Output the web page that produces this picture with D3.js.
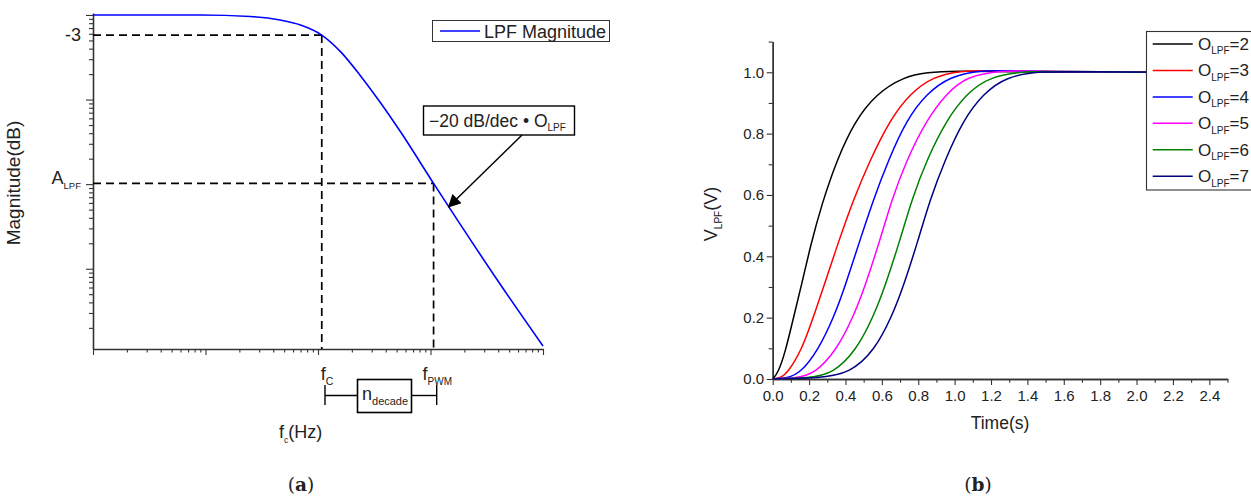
<!DOCTYPE html>
<html><head><meta charset="utf-8">
<style>
  body{margin:0;background:#fff}
  svg{display:block}
  text{font-family:"Liberation Sans",Arial,sans-serif;fill:#222}
</style>
</head><body>
<svg width="1251" height="498"></svg>
<script src="https://cdn.jsdelivr.net/npm/d3@7"></script>
<script>
// (a) LPF magnitude
const lpfFreq = [1, 9, 25, 46, 70, 108, 160, 240, 362, 545, 1065, 4150, 10000];
const lpfMag  = [10000, 10000, 9600, 8720, 7610, 5790, 3640, 1890, 904, 410, 102, 6.6, 1.22];
const fC = 108, fPWM = 1065;
const mag3dB = 5790, magA = 102;
const arrowTip = [1450, 54];

// (b) step responses, [time s, volts]
const orders = [2, 3, 4, 5, 6, 7];
const stepO2 = [[0,0],[0.03,0.02],[0.07,0.09],[0.11,0.19],[0.16,0.31],[0.21,0.44],[0.27,0.57],[0.35,0.71],[0.45,0.84],[0.57,0.93],[0.72,0.985],[0.85,1.0],[1.0,1.004],[1.3,1.002],[1.6,1.0],[2.5,1.0]];
const stepO3 = [[0,0],[0.04,0.003],[0.08,0.018],[0.16,0.095],[0.224,0.203],[0.28,0.301],[0.365,0.453],[0.443,0.584],[0.535,0.714],[0.645,0.845],[0.755,0.931],[0.883,0.986],[1.03,1.005],[1.2,1.006],[1.5,1.001],[2.5,1.0]];
const stepO4 = [[0,0],[0.08,0.003],[0.15,0.018],[0.251,0.095],[0.337,0.203],[0.397,0.301],[0.48,0.453],[0.553,0.584],[0.636,0.714],[0.736,0.845],[0.846,0.931],[0.975,0.986],[1.14,1.008],[1.35,1.004],[1.7,1.0],[2.5,1.0]];
const stepO5 = [[0,0],[0.13,0.003],[0.233,0.018],[0.352,0.095],[0.443,0.203],[0.507,0.301],[0.59,0.453],[0.654,0.584],[0.736,0.714],[0.846,0.845],[0.956,0.931],[1.066,0.986],[1.25,1.007],[1.5,1.003],[1.9,1.0],[2.5,1.0]];
const stepO6 = [[0,0],[0.2,0.003],[0.333,0.018],[0.461,0.095],[0.553,0.203],[0.617,0.301],[0.7,0.453],[0.764,0.584],[0.846,0.714],[0.956,0.845],[1.066,0.931],[1.194,0.986],[1.396,1.005],[1.65,1.002],[2.0,1.0],[2.5,1.0]];
const stepO7 = [[0,0],[0.25,0.003],[0.425,0.018],[0.562,0.095],[0.654,0.203],[0.718,0.301],[0.8,0.453],[0.864,0.584],[0.947,0.714],[1.048,0.845],[1.158,0.931],[1.286,0.986],[1.47,1.004],[1.75,1.001],[2.1,1.0],[2.5,1.0]];
const steps = [stepO2, stepO3, stepO4, stepO5, stepO6, stepO7];
const colors = ['#000000', '#ff0000', '#0000ff', '#ff00ff', '#008000', '#000080'];

const timeTicks = d3.range(0, 2.41, 0.2);
const voltTicks = d3.range(0, 1.01, 0.2);

const svg = d3.select('svg');
const ink = '#333';

// text with a subscript: parts = [main, sub, rest]
function subText(g, x, y, parts, size, subSize, anchor) {
  const t = g.append('text').attr('x', x).attr('y', y)
    .attr('font-size', size).attr('text-anchor', anchor || 'start');
  t.append('tspan').text(parts[0]);
  t.append('tspan').attr('font-size', subSize).attr('dy', size * 0.26).text(parts[1]);
  if (parts[2]) t.append('tspan').attr('dy', -size * 0.26).text(parts[2]);
  return t;
}

function styleAxis(g, w) {
  g.select('.domain').attr('stroke', ink).attr('stroke-width', w);
  g.selectAll('.tick line').attr('stroke', ink).attr('stroke-width', 1.1);
  g.selectAll('.tick text').attr('fill', '#222').attr('font-family', '"Liberation Sans",Arial,sans-serif');
}

// ---------- (a) ----------
const xA = d3.scaleLog().domain([1, 1e4]).range([93, 543]);
const yA = d3.scaleLog().domain([1.125, 10550]).range([349, 13]);

function logTicks(lo, hi) {
  const out = [];
  for (let e = 0; e <= 4; e++) for (let k = 1; k < 10; k++) {
    const v = k * Math.pow(10, e);
    if (v >= lo && v <= hi) out.push(v);
  }
  return out;
}
const isMajor = v => Math.abs(Math.log10(v) - Math.round(Math.log10(v))) < 1e-9;

const gyA = svg.append('g').attr('transform', 'translate(93,0)')
  .call(d3.axisLeft(yA).tickValues(logTicks(1.125, 10550)).tickFormat('').tickSizeOuter(0));
gyA.selectAll('.tick line').attr('x2', d => isMajor(d) ? -7 : -4);
styleAxis(gyA, 1.6);

const gxA = svg.append('g').attr('transform', 'translate(0,349)')
  .call(d3.axisBottom(xA).tickValues(logTicks(1, 1e4)).tickFormat('').tickSizeOuter(0));
gxA.selectAll('.tick line').attr('y2', d => isMajor(d) ? 6 : 3.5);
styleAxis(gxA, 1.6);

// dashed guides
const dash = svg.append('g').attr('stroke', '#000').attr('stroke-width', 1.7)
  .attr('stroke-dasharray', '8,5').attr('fill', 'none');
[[fC, mag3dB], [fPWM, magA]].forEach(([f, m]) => {
  dash.append('line').attr('x1', xA(1)).attr('x2', xA(f)).attr('y1', yA(m)).attr('y2', yA(m));
  dash.append('line').attr('x1', xA(f)).attr('x2', xA(f)).attr('y1', yA(m)).attr('y2', yA.range()[0]);
});

const lpfLine = d3.line().curve(d3.curveMonotoneX).x((d, i) => xA(lpfFreq[i])).y(d => yA(d));
svg.append('path').datum(lpfMag).attr('d', lpfLine)
  .attr('fill', 'none').attr('stroke', '#0000ff').attr('stroke-width', 1.6);

// y labels
svg.append('text').attr('x', 81).attr('y', 41).attr('font-size', 18).attr('text-anchor', 'end').text('-3');
subText(svg, 81, 184, ['A', 'LPF'], 18, 9.5, 'end');
svg.append('text').attr('transform', 'translate(20,183) rotate(-90)')
  .attr('font-size', 19).attr('text-anchor', 'middle').text('Magnitude(dB)');

// legend
svg.append('rect').attr('x', 432.5).attr('y', 20.5).attr('width', 177).attr('height', 21)
  .attr('fill', '#fff').attr('stroke', ink).attr('stroke-width', 1);
svg.append('line').attr('x1', 440).attr('x2', 480).attr('y1', 31).attr('y2', 31)
  .attr('stroke', '#0000ff').attr('stroke-width', 1.6);
svg.append('text').attr('x', 484).attr('y', 37.5).attr('font-size', 18).text('LPF Magnitude');

// slope annotation
svg.append('rect').attr('x', 423.5).attr('y', 106).attr('width', 151).attr('height', 29)
  .attr('fill', '#fff').attr('stroke', '#000').attr('stroke-width', 1.4);
subText(svg, 429, 126.5, ['\u221220 dB/dec \u2022 O', 'LPF'], 17.5, 10);
svg.append('defs').append('marker').attr('id', 'ah').attr('viewBox', '0 0 10 10')
  .attr('refX', 9).attr('refY', 5).attr('markerWidth', 15).attr('markerHeight', 13)
  .attr('orient', 'auto').attr('markerUnits', 'userSpaceOnUse')
  .append('path').attr('d', 'M0,0L10,5L0,10z').attr('fill', '#000');
svg.append('line').attr('x1', 522).attr('y1', 135)
  .attr('x2', xA(arrowTip[0])).attr('y2', yA(arrowTip[1]))
  .attr('stroke', '#000').attr('stroke-width', 1.5).attr('marker-end', 'url(#ah)');

// fc / fPWM bracket
subText(svg, xA(fC) - 1, 380, ['f', 'C'], 18, 10.5);
subText(svg, xA(fPWM) - 11, 380, ['f', 'PWM'], 18, 10);
const br = svg.append('g').attr('stroke', '#000').attr('stroke-width', 1.4);
br.append('line').attr('x1', 325).attr('x2', 325).attr('y1', 385).attr('y2', 405);
br.append('line').attr('x1', 436.7).attr('x2', 436.7).attr('y1', 385).attr('y2', 405);
br.append('line').attr('x1', 325).attr('x2', 357.5).attr('y1', 395.5).attr('y2', 395.5);
br.append('line').attr('x1', 411.5).attr('x2', 436.7).attr('y1', 395.5).attr('y2', 395.5);
br.append('rect').attr('x', 357.5).attr('y', 379.5).attr('width', 54).attr('height', 33)
  .attr('fill', '#fff').attr('stroke-width', 1.6);
subText(svg, 362, 400, ['n', 'decade'], 18, 11);
subText(svg, 279, 438, ['f', 'c', '(Hz)'], 18, 8.5);

// ---------- (b) ----------
const xB = d3.scaleLinear().domain([0, 2.5]).range([772.7, 1227.5]);
const yB = d3.scaleLinear().domain([0, 1.1]).range([379, 41.6]);

const gyBm = svg.append('g').attr('transform', 'translate(772.7,0)')
  .call(d3.axisLeft(yB).tickValues(d3.range(0.1, 1.11, 0.2)).tickFormat('').tickSize(4).tickSizeOuter(0));
styleAxis(gyBm, 1.4);
const gyB = svg.append('g').attr('transform', 'translate(772.7,0)')
  .call(d3.axisLeft(yB).tickValues(voltTicks).tickFormat(d3.format('.1f')).tickSize(6).tickPadding(2.5).tickSizeOuter(0));
gyB.selectAll('text').attr('font-size', 15);
styleAxis(gyB, 1.4);

const gxBm = svg.append('g').attr('transform', 'translate(0,379)')
  .call(d3.axisBottom(xB).tickValues(d3.range(0.1, 2.51, 0.2)).tickFormat('').tickSize(3.7).tickSizeOuter(0));
styleAxis(gxBm, 1.4);
const gxB = svg.append('g').attr('transform', 'translate(0,379)')
  .call(d3.axisBottom(xB).tickValues(timeTicks).tickFormat(d3.format('.1f')).tickSize(6).tickPadding(5).tickSizeOuter(0));
gxB.selectAll('text').attr('font-size', 15);
styleAxis(gxB, 1.4);

const stepLine = d3.line().curve(d3.curveBasis).x(d => xB(d[0])).y(d => yB(d[1]));
svg.append('g').selectAll('path').data(steps).join('path')
  .attr('d', stepLine).attr('fill', 'none')
  .attr('stroke', (d, i) => colors[i]).attr('stroke-width', 1.5);

svg.append('text').attr('x', 1000).attr('y', 429).attr('font-size', 17.5)
  .attr('text-anchor', 'middle').text('Time(s)');
subText(svg.append('g').attr('transform', 'translate(717,214) rotate(-90)'),
  0, 0, ['V', 'LPF', '(V)'], 18, 10, 'middle');

// legend (b)
svg.append('rect').attr('x', 1146.5).attr('y', 31.5).attr('width', 130).attr('height', 158.5)
  .attr('fill', '#fff').attr('stroke', ink).attr('stroke-width', 1.1);
orders.forEach((o, i) => {
  const y = 44 + i * 26.45;
  svg.append('line').attr('x1', 1152.7).attr('x2', 1192.7).attr('y1', y).attr('y2', y)
    .attr('stroke', colors[i]).attr('stroke-width', 1.5);
  subText(svg, 1198, y + 6, ['O', 'LPF', '=' + o], 17, 10);
});

// captions
[['a', 301], ['b', 978]].forEach(([c, x]) => {
  const t = svg.append('text').attr('x', x).attr('y', 491).attr('text-anchor', 'middle')
    .attr('font-size', 18.5).style('font-family', '"DejaVu Serif","Liberation Serif",serif');
  t.append('tspan').text('(');
  t.append('tspan').attr('font-weight', 'bold').text(c);
  t.append('tspan').text(')');
});
</script>
</body></html>
